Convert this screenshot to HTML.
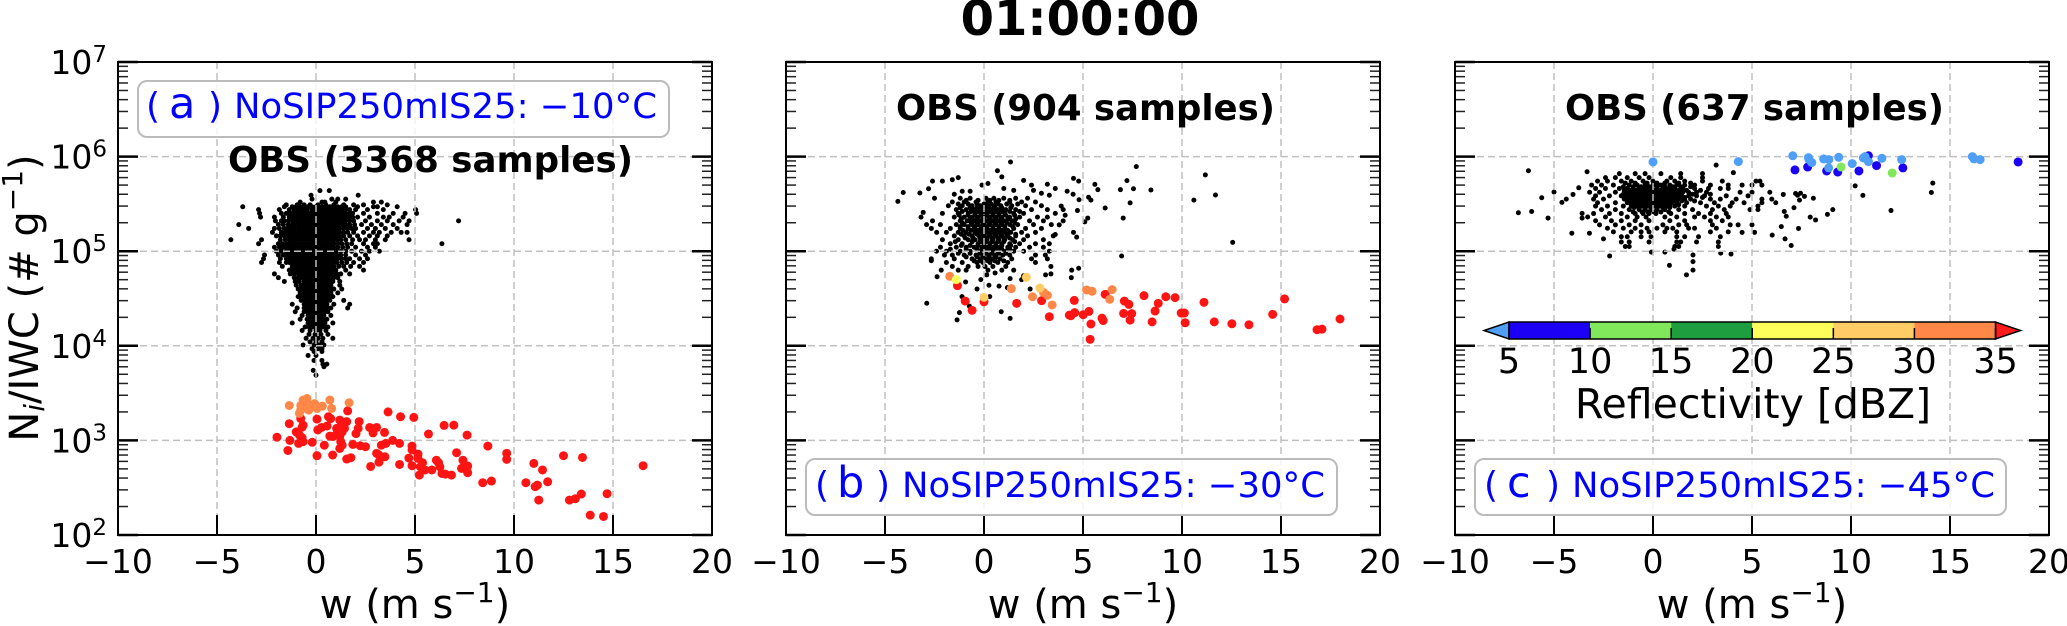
<!DOCTYPE html>
<html lang="en">
<head>
<meta charset="utf-8">
<title>01:00:00 scatter panels</title>
<style>
html,body{margin:0;padding:0;background:#fff;width:2067px;height:626px;overflow:hidden}
svg{display:block}
text{font-family:"DejaVu Sans","Liberation Sans",sans-serif;fill:#000}
.obs-title{font-size:36px;font-weight:bold}
.tag{font-size:35px;fill:#0000ff}
.tag-paren{font-size:36px;fill:#0000ff}
.tag-big{font-size:43px;fill:#0000ff}
.axis-title{font-size:40px}
</style>
</head>
<body>
<svg id="chart" width="2067" height="626" viewBox="0 0 2067 626" xmlns="http://www.w3.org/2000/svg">
  <text x="1080" y="35" text-anchor="middle" font-size="48" font-weight="bold">01:00:00</text>
  <g id="panel-a"></g>
  <g id="panel-b"></g>
  <g id="panel-c"></g>

  <text class="axis-title" transform="translate(38,298) rotate(-90)" text-anchor="middle">N<tspan font-size="28" font-style="italic" dy="6">i</tspan><tspan dy="-6">/IWC (# g</tspan><tspan font-size="28" dy="-16">−1</tspan><tspan dy="16">)</tspan></text>
  <text class="axis-title" x="415" y="618" text-anchor="middle">w (m s<tspan font-size="28" dy="-16">−1</tspan><tspan dy="16">)</tspan></text>
  <text class="axis-title" x="1083" y="618" text-anchor="middle">w (m s<tspan font-size="28" dy="-16">−1</tspan><tspan dy="16">)</tspan></text>
  <text class="axis-title" x="1752" y="618" text-anchor="middle">w (m s<tspan font-size="28" dy="-16">−1</tspan><tspan dy="16">)</tspan></text>

  <g>
    <rect x="138" y="81" width="531" height="56" rx="9" fill="#fff" fill-opacity="0.8" stroke="#bbb" stroke-width="2"/>
    <text class="tag-paren" x="146" y="118">(</text><text class="tag-big" x="169" y="118">a</text><text class="tag-paren" x="208" y="118">)</text>
    <text class="tag" x="234" y="118" textLength="423" lengthAdjust="spacingAndGlyphs">NoSIP250mIS25: −10°C</text>
  </g>
  <g>
    <rect x="806" y="459" width="531" height="56" rx="9" fill="#fff" fill-opacity="0.8" stroke="#bbb" stroke-width="2"/>
    <text class="tag-paren" x="815" y="497">(</text><text class="tag-big" x="837" y="497">b</text><text class="tag-paren" x="876" y="497">)</text>
    <text class="tag" x="902" y="497" textLength="423" lengthAdjust="spacingAndGlyphs">NoSIP250mIS25: −30°C</text>
  </g>
  <g>
    <rect x="1475" y="459" width="531" height="56" rx="9" fill="#fff" fill-opacity="0.8" stroke="#bbb" stroke-width="2"/>
    <text class="tag-paren" x="1484" y="497">(</text><text class="tag-big" x="1507" y="497">c</text><text class="tag-paren" x="1546" y="497">)</text>
    <text class="tag" x="1572" y="497" textLength="423" lengthAdjust="spacingAndGlyphs">NoSIP250mIS25: −45°C</text>
  </g>

  <text class="obs-title" x="228" y="172" textLength="405" lengthAdjust="spacingAndGlyphs">OBS (3368 samples)</text>
  <text class="obs-title" x="896" y="120" textLength="379" lengthAdjust="spacingAndGlyphs">OBS (904 samples)</text>
  <text class="obs-title" x="1565" y="120" textLength="379" lengthAdjust="spacingAndGlyphs">OBS (637 samples)</text>

  <g id="colorbar"></g>
  <text x="1753" y="418" text-anchor="middle" font-size="41">Reflectivity [dBZ]</text>
</svg>

<script>
/* ---------- axis ticks ---------- */
const xTicks = [-10, -5, 0, 5, 10, 15, 20];
const xTickLabels = ['−10', '−5', '0', '5', '10', '15', '20'];
const yDecades = [2, 3, 4, 5, 6, 7];
const yMinorFactors = [2, 3, 4, 5, 6, 7, 8, 9];

/* ---------- colorbar ---------- */
const cbarBounds = [5, 10, 15, 20, 25, 30, 35];
const cbarColors = ['#1c00f5', '#80e85a', '#1f9e3f', '#ffff5c', '#ffcc66', '#ff8848'];
const cbarUnder = '#4f9ef8';
const cbarOver = '#ff1a1a';

/* ---------- panel (a) observations: rows of [Ni/IWC, [w...]] ---------- */
const obsARows = [
 [4.37e5,[0.2,0.67]],
 [3.9e5,[2.13,-0.25]],
 [3.55e5,[-0.2,0.8,1.1,1.5]],
 [3.3e5,[-0.8,0.3,0.45,1.0,2.9,3.3]],
 [3.09e5,[-1.5,-0.95,-0.6,-0.3,0.1,0.5,0.9,1.4,1.9,2.4,3.6]],
 [2.95e5,[-3.7,-1.6,-1.2,-0.8,-0.4,0,0.3,0.7,1.1,1.5,2.1,2.9,3.1,4.1]],
 [2.75e5,[-2.9,-1.85,-1.35,-1.0,-0.7,-0.45,-0.2,0.05,0.3,0.55,0.8,1.05,1.3,1.7,2.0,2.6,3.4,5.03]],
 [2.51e5,[-2.85,-1.75,-1.5,-1.2,-0.9,-0.6,-0.3,0,0.3,0.6,0.9,1.2,1.5,1.85,2.4,3.1,3.9,4.5,5.08]],
 [2.29e5,[-2.8,-2.1,-1.35,-1.05,-0.75,-0.45,-0.15,0.15,0.45,0.75,1.05,1.35,1.65,2.1,2.7,3.4,3.7,4.4]],
 [2.09e5,[-2.05,-1.6,-1.2,-0.9,-0.6,-0.3,0,0.3,0.6,0.9,1.2,1.5,1.9,2.5,3.1,3.6,4.2,4.7,7.2]],
 [1.91e5,[-3.9,-1.9,-1.4,-1.05,-0.75,-0.45,-0.15,0.15,0.45,0.75,1.05,1.35,1.7,2.3,2.8,3.3,3.9,4.6]],
 [1.74e5,[-3.4,-2.1,-1.6,-1.3,-0.9,-0.6,-0.3,0,0.3,0.6,0.9,1.2,1.6,2.0,2.6,3.0,3.5,4.1]],
 [1.58e5,[-2.2,-1.75,-1.35,-1.05,-0.75,-0.45,-0.15,0.15,0.45,0.75,1.05,1.4,1.9,2.4,2.9,3.2,3.8,4.3,4.6]],
 [1.45e5,[-2.0,-1.6,-1.2,-0.9,-0.6,-0.3,0,0.3,0.6,0.9,1.2,1.7,2.1,2.7,3.1,3.6]],
 [1.32e5,[-4.3,-2.75,-1.8,-1.35,-1.05,-0.75,-0.45,-0.15,0.15,0.45,0.75,1.05,1.5,2.2,2.5,3.0,3.5,4.7]],
 [1.2e5,[-2.9,-1.9,-1.5,-1.2,-0.9,-0.6,-0.3,0,0.3,0.6,0.9,1.3,1.8,2.4,2.9,3.1,6.36]],
 [1.1e5,[-2.1,-1.65,-1.35,-1.05,-0.75,-0.45,-0.15,0.15,0.45,0.75,1.1,1.6,2.0,2.6,3.0]],
 [1e5,[-2.0,-1.5,-1.2,-0.9,-0.6,-0.3,0,0.3,0.6,0.9,1.25,1.8,2.3,2.7,3.2]],
 [9.12e4,[-2.6,-1.9,-1.65,-1.35,-1.05,-0.75,-0.45,-0.15,0.15,0.45,0.75,1.05,1.5,2.0,2.5]],
 [8.32e4,[-2.65,-1.8,-1.5,-1.2,-0.9,-0.6,-0.3,0,0.3,0.6,0.9,1.3,1.7,2.2,2.6]],
 [7.59e4,[-2.75,-1.85,-1.35,-1.05,-0.75,-0.45,-0.15,0.15,0.45,0.75,1.05,1.55,1.9,2.4]],
 [6.92e4,[-1.7,-1.2,-0.9,-0.6,-0.3,0,0.3,0.6,0.9,1.4,1.75,2.2]],
 [6.31e4,[-1.35,-1.05,-0.75,-0.45,-0.15,0.15,0.45,0.75,1.0,1.5,2.4]],
 [5.75e4,[-2.1,-1.3,-0.9,-0.6,-0.3,0,0.3,0.6,0.9,1.25,1.7]],
 [5.25e4,[-1.9,-1.1,-0.75,-0.45,-0.15,0.15,0.45,0.75,1.1]],
 [4.79e4,[-1.6,-1.05,-0.6,-0.3,0,0.3,0.6,0.85,1.2]],
 [4.37e4,[-1.0,-0.75,-0.45,-0.15,0.15,0.45,0.75,1.2]],
 [3.98e4,[-0.9,-0.6,-0.3,0,0.3,0.6,0.9,1.3]],
 [3.63e4,[-0.8,-0.45,-0.15,0.15,0.45,0.75,1.1]],
 [3.31e4,[-0.9,-0.6,-0.3,0,0.3,0.6,0.85]],
 [3.02e4,[-0.75,-0.45,-0.15,0.15,0.45,0.7,1.4]],
 [2.75e4,[-1.2,-0.6,-0.3,0,0.3,0.55,0.9,1.7]],
 [2.51e4,[-0.95,-0.45,-0.15,0.15,0.45,0.75,1.6]],
 [2.29e4,[-1.05,-0.6,-0.3,0,0.3,0.6]],
 [2.09e4,[-0.7,-0.4,-0.15,0.15,0.4,0.75]],
 [1.91e4,[-0.8,-0.3,0,0.3,0.55]],
 [1.74e4,[-1.2,-0.4,-0.1,0.15,0.45,0.85]],
 [1.58e4,[-0.55,-0.2,0.05,0.3,0.6]],
 [1.45e4,[-0.7,-0.3,0,0.2,0.5]],
 [1.32e4,[-0.35,-0.05,0.25,0.6]],
 [1.2e4,[-0.5,-0.15,0.1,0.35,0.85]],
 [1.1e4,[-0.3,0,0.3]],
 [1.02e4,[-0.65,-0.1,0.15,0.4]],
 [9.3e3,[-0.2,0.1,0.3]],
 [8.7e3,[-0.1,0.3]],
 [7.9e3,[-0.4,0.0]],
 [7.0e3,[-0.1,0.3]],
 [6.4e3,[0.55,0.35]],
 [6.0e3,[0.4]],
 [5.5e3,[-0.14]],
 [4.9e3,[0]]
];
/* dense centre of the panel (a) cloud */
const obsACoreRows = [
 [2.95e5,[-1.0,-0.6,-0.2,0.15,0.5,0.9,1.3]],
 [2.75e5,[-1.1,-0.85,-0.55,-0.1,0.15,0.45,0.7,0.95,1.2,1.5]],
 [2.51e5,[-1.35,-1.05,-0.75,-0.45,-0.15,0.15,0.45,0.75,1.05,1.35,1.7]],
 [2.29e5,[-1.65,-1.2,-0.9,-0.6,-0.3,0,0.3,0.6,0.9,1.2,1.5,1.85]],
 [2.09e5,[-1.75,-1.4,-1.05,-0.75,-0.45,-0.15,0.15,0.45,0.75,1.05,1.35,1.7]],
 [1.91e5,[-1.65,-1.2,-0.9,-0.6,-0.3,0,0.3,0.6,0.9,1.2,1.5,1.95]],
 [1.74e5,[-1.85,-1.45,-1.1,-0.75,-0.45,-0.15,0.15,0.45,0.75,1.05,1.4,1.8]],
 [1.58e5,[-1.55,-1.2,-0.9,-0.6,-0.3,0,0.3,0.6,0.9,1.2,1.6]],
 [1.45e5,[-1.8,-1.4,-1.05,-0.75,-0.45,-0.15,0.15,0.45,0.75,1.05,1.4]],
 [1.32e5,[-1.55,-1.2,-0.9,-0.6,-0.3,0,0.3,0.6,0.9,1.25,1.85]],
 [1.2e5,[-1.7,-1.35,-1.05,-0.75,-0.45,-0.15,0.15,0.45,0.75,1.1,1.55]],
 [1.1e5,[-1.85,-1.5,-1.2,-0.9,-0.6,-0.3,0,0.3,0.6,0.9,1.35]],
 [1e5,[-1.75,-1.35,-1.05,-0.75,-0.45,-0.15,0.15,0.45,0.75,1.05,1.5]],
 [9.12e4,[-1.5,-1.2,-0.9,-0.6,-0.3,0,0.3,0.6,0.9,1.25]],
 [8.32e4,[-1.35,-1.05,-0.75,-0.45,-0.15,0.15,0.45,0.75,1.1,1.5]],
 [7.59e4,[-1.5,-1.2,-0.9,-0.6,-0.3,0,0.3,0.6,0.9,1.3]],
 [6.92e4,[-1.05,-0.75,-0.45,-0.15,0.15,0.45,0.75,1.15]],
 [6.31e4,[-1.2,-0.9,-0.6,-0.3,0,0.3,0.6,0.88]],
 [5.75e4,[-1.1,-0.75,-0.45,-0.15,0.15,0.45,0.75,1.05]],
 [5.25e4,[-0.9,-0.6,-0.3,0,0.3,0.6,0.9]],
 [4.79e4,[-0.85,-0.45,-0.15,0.15,0.45,0.72]],
 [4.37e4,[-0.6,-0.3,0,0.3,0.6]],
 [3.98e4,[-0.75,-0.45,-0.15,0.15,0.45,0.75]],
 [3.63e4,[-0.6,-0.3,0,0.3,0.6]],
 [3.31e4,[-0.75,-0.45,-0.15,0.15,0.45,0.72]],
 [3.02e4,[-0.6,-0.3,0,0.3,0.58]],
 [2.75e4,[-0.45,-0.15,0.15,0.42]],
 [2.51e4,[-0.6,-0.3,0,0.3,0.6]],
 [2.29e4,[-0.45,-0.15,0.15,0.45]],
 [2.09e4,[-0.25,0,0.28]],
 [1.91e4,[-0.45,-0.15,0.15,0.42]],
 [1.74e4,[-0.25,0.02,0.3]],
 [1.58e4,[-0.35,-0.08,0.17,0.45]]
];

/* ---------- panel (a) model ---------- */
const redA = [
[-1.97,1080],[-1.35,1500],[-1.42,783],[-1.32,1000],[-0.88,930],[-0.65,968],[-1.0,1230],[-0.84,1140],[-0.7,1070],[-0.77,1700],[-0.65,1450],[-0.7,1380],[-0.19,955],[0.05,690],[0.84,700],[0.42,890],[0.05,1680],[0.09,1290],[0.28,1370],[0.56,1420],[0.63,1780],[0.74,1700],[0.7,1110],[0.86,1100],[1.04,1340],[1.2,1640],[1.32,1450],[1.6,2050],[1.55,1580],[1.09,1230],[1.32,1230],[1.2,1100],[1.09,1150],[1.44,1340],[1.25,968],[1.2,822],[1.32,890],[1.55,635],[1.76,656],[1.86,907],[2.18,1580],[2.13,1340],[2.02,1180],[2.23,879],[2.5,858],[2.71,1370],[3.06,1370],[2.88,1200],[3.46,1215],[2.76,530],[3.06,730],[3.18,700],[3.48,671],[3.18,589],[3.3,891],[3.53,929],[3.87,1000],[4.22,929],[3.64,2000],[4.27,1780],[4.94,1750],[5.68,1167],[6.47,1440],[6.96,1450],[7.63,1138],[8.68,871],[4.85,871],[4.85,794],[5.15,717],[4.69,650],[5.15,646],[4.22,557],[4.85,540],[5.38,580],[5.27,525],[5.22,430],[5.5,487],[5.85,487],[6.08,617],[6.19,580],[6.26,525],[6.36,447],[6.54,440],[6.84,430],[7.1,741],[7.42,617],[7.35,506],[7.66,537],[7.66,455],[8.42,357],[8.86,372],[9.63,730],[9.63,631],[10.6,357],[11.07,324],[11.18,337],[11.25,234],[11.7,365],[11.44,487],[11.0,571],[12.5,689],[13.46,660],[16.52,540],[12.8,234],[13.1,242],[13.4,271],[14.7,273],[13.85,162],[14.52,157]
];
const orangeA = [
[-1.35,2340],[-0.77,2340],[-0.65,2670],[-0.46,2770],[-0.77,2090],[-0.84,1930],[-0.37,2090],[-0.3,2340],[-0.07,2450],[0.05,2180],[0.32,2300],[0.7,2670],[0.79,2180],[1.67,2500],[-0.65,2270],[-0.42,2450]
];

/* ---------- panel (b) observations ---------- */
const obsBRows = [
 [3.63e5,[-1.2,-0.7,0.1,0.5,1.0,1.6,2.2]],
 [3.31e5,[-1.6,-1.0,-0.4,0.2,0.6,1.3,1.9,2.6]],
 [3.02e5,[-1.8,-1.1,-0.6,-0.2,0.15,0.5,0.85,1.4,2.1,2.9]],
 [2.75e5,[-1.4,-0.9,-0.5,-0.2,0.1,0.4,0.7,1.1,1.6,2.4,3.2,4.0]],
 [2.51e5,[-2.1,-1.3,-0.8,-0.45,-0.15,0.15,0.45,0.75,1.05,1.5,2.0,3.6]],
 [2.29e5,[-1.5,-1.0,-0.6,-0.3,0,0.3,0.6,0.9,1.3,1.8,2.7,3.2]],
 [2.09e5,[-2.6,-1.2,-0.85,-0.5,-0.2,0.1,0.4,0.7,1.0,1.4,2.3,3.0,4.0]],
 [1.91e5,[-2.2,-1.4,-1.0,-0.6,-0.3,0,0.3,0.6,0.9,1.3,1.7,2.5,3.4]],
 [1.74e5,[-1.7,-1.2,-0.8,-0.5,-0.15,0.15,0.45,0.75,1.05,1.5,2.1,2.9]],
 [1.58e5,[-1.9,-1.3,-0.9,-0.45,-0.2,0.1,0.4,0.7,1.0,1.35,1.9,2.6]],
 [1.45e5,[-1.5,-1.0,-0.6,-0.25,0,0.3,0.6,0.9,1.2,1.6,2.2,3.5]],
 [1.32e5,[-2.1,-1.3,-0.8,-0.45,-0.1,0.15,0.45,0.75,1.05,1.45,2.0,3.0]],
 [1.2e5,[-1.7,-1.1,-0.3,0,0.3,0.6,0.9,1.3,1.8,2.6,3.3]],
 [1.1e5,[-2.2,-1.4,-0.9,-0.5,-0.1,0.2,0.5,0.8,1.2,1.6,2.3,3.0]],
 [1e5,[-2.4,-1.9,-1.2,-0.7,-0.2,0.1,0.4,0.7,1.1,1.5,2.0,3.3]],
 [9.1e4,[-2.0,-1.6,-1.0,-0.4,-0.05,0.25,0.55,0.95,1.3,2.6,3.1]],
 [8.3e4,[-2.66,-1.5,-0.6,-0.2,0.1,0.4,0.8,1.4,2.4,3.2]],
 [7.6e4,[-1.9,-1.1,-0.35,-0.05,0.3,0.7,1.2,2.6]],
 [6.9e4,[-1.6,-0.8,-0.3,0.05,0.45,1.1,3.38]],
 [6.3e4,[-2.16,-1.3,-0.9,0.2,0.9,1.5]]
];
/* dense centre of the panel (b) cloud */
const obsBCoreRows = [
 [3.45e5,[-0.9,-0.3,0.3,0.75,1.3]],
 [3.15e5,[-1.3,-0.8,-0.35,0,0.35,0.7,1.15,1.7]],
 [2.88e5,[-1.2,-0.7,-0.35,-0.05,0.25,0.55,0.9,1.35]],
 [2.63e5,[-1.1,-0.65,-0.3,0,0.3,0.6,0.9,1.3,1.8]],
 [2.4e5,[-1.25,-0.8,-0.45,-0.15,0.15,0.45,0.75,1.1,1.55]],
 [2.19e5,[-1.15,-0.7,-0.35,-0.05,0.25,0.55,0.85,1.2,1.6]],
 [2e5,[-1.1,-0.65,-0.35,-0.05,0.25,0.55,0.85,1.15,1.55]],
 [1.82e5,[-1.2,-0.8,-0.45,-0.15,0.15,0.45,0.75,1.05,1.45]],
 [1.66e5,[-1.05,-0.65,-0.3,0,0.3,0.6,0.9,1.2]],
 [1.51e5,[-1.15,-0.75,-0.35,-0.05,0.25,0.55,0.85,1.15,1.6]],
 [1.38e5,[-0.95,-0.55,-0.2,0.1,0.4,0.7,1.0,1.3]],
 [1.26e5,[-1.45,-0.6,-0.2,0.1,0.4,0.7,1.0,1.55]],
 [1.15e5,[-1.15,-0.7,-0.3,0,0.3,0.6,0.9,1.35]],
 [1.05e5,[-1.7,-0.9,-0.35,0,0.3,0.6,0.9,1.3]],
 [9.5e4,[-1.3,-0.7,-0.2,0.1,0.4,0.75,1.1]],
 [8.7e4,[-0.9,-0.35,-0.05,0.25,0.6]],
 [7.9e4,[-0.5,-0.15,0.2,0.55,1.0]]
];
const obsBExtra = [
[1.34,8.77e5],[0.68,7.08e5],[7.69,7.83e5],[11.18,6.4e5],[7.22,5.57e5],[8.43,4.44e5],[7.55,4.57e5],[6.89,4.47e5],[11.69,3.93e5],[10.6,3.47e5],[7.38,3.24e5],[7.03,2.24e5],[12.56,1.24e5],[6.95,8.9e4],[6.12,2.86e5],[4.52,5.89e5],[4.78,5.5e5],[5.6,5.09e5],[5.75,4.47e5],[5.28,3.72e5],[5.4,3.47e5],[5.24,2.24e5],[5.09,2.04e5],[4.72,2.69e5],[4.52,1.58e5],[4.68,1.41e5],[4.78,6.6e4],[4.43,6.3e4],[4.41,5.25e4],
[-4.35,3.36e5],[-4.08,4.17e5],[-3.24,4.12e5],[-2.6,5.5e5],[-2.1,5.5e5],[-2.8,4.57e5],[-2.5,3.63e5],[-3.18,2.29e5],[-3.07,2.57e5],[-2.9,1.91e5],[-2.66,1.74e5],[-2.39,1.58e5],[-2.66,7.94e4],[-2.37,5.37e4],
[-2.89,2.82e4],[-1.36,1.88e4],[-1.24,2.24e4],[-1.11,3.31e4],[-0.74,2.63e4],[0.87,2.29e4],[1.32,1.95e4],[-0.35,3.98e4],[0.29,3.31e4],[0.25,4.37e4],[0.76,4.27e4],[1.18,4.12e4],[2.33,3.98e4],[-0.93,4.73e4],[-0.16,5.01e4],[0.14,5.62e4],[0.56,5.89e4],[1.32,5.13e4],[3.11,5.62e4],[3.38,5.75e4],[2.0,5.5e4],[1.9,5.0e4],
[-1.6,5.7e5],[-1.3,6.0e5],[-0.1,5.0e5],[0.2,5.2e5],[0.9,6.1e5],[2.0,5.6e5],[2.4,5.0e5],[3.2,5.1e5],[3.6,4.6e5],[4.2,4.3e5],[4.5,4.0e5],[4.8,3.5e5],[1.0,4.6e5],[1.5,4.4e5],[2.5,4.4e5],[2.9,4.1e5],[-0.7,4.3e5],[-1.1,4.3e5],[-1.5,4.0e5],[3.3,3.9e5],[3.9,3.0e5],[4.1,2.4e5],[3.8,1.9e5],[3.6,1.5e5]
];
const redB = [
[-1.34,4.32e4],[-0.95,2.97e4],[-0.6,2.37e4],[0,2.92e4],[1.65,2.81e4],[2.91,3.0e4],[3.3,2.03e4],[4.31,2.11e4],[4.39,2.08e4],[4.56,3.02e4],[4.58,2.24e4],[5.01,2.13e4],[5.3,2.31e4],[5.4,1.7e4],[5.36,1.17e4],[5.96,1.96e4],[6.02,1.85e4],[6.12,3.5e4],[7.09,2.97e4],[7.32,2.74e4],[7.05,2.2e4],[7.46,2.19e4],[7.38,1.87e4],[8.08,3.39e4],[8.8,2.81e4],[8.64,2.33e4],[8.49,1.79e4],[9.18,3.3e4],[9.65,3.23e4],[9.96,2.22e4],[10.12,2.22e4],[10.16,1.75e4],[11.11,2.88e4],[11.63,1.79e4],[12.52,1.71e4],[13.38,1.67e4],[14.58,2.15e4],[15.18,3.13e4],[16.82,1.48e4],[17.07,1.5e4],[17.98,1.92e4]
];
const orangeB = [
[-1.73,5.43e4],[1.38,4.02e4],[2.45,3.3e4],[3.01,3.65e4],[3.2,3.42e4],[3.44,2.7e4],[5.18,3.89e4],[5.46,3.77e4],[6.35,3.1e4],[6.47,3.93e4]
];
const lightOrangeB = [[2.82,4.08e4],[2.14,5.3e4],[0,3.25e4]];
const yellowB = [[-1.4,5.01e4]];

/* ---------- panel (c) observations ---------- */
const obsCRows = [
 [6.6e5,[-1.7,-0.9,-0.4,0.4,1.4,2.5]],
 [6.0e5,[-2.4,-1.9,-1.3,-0.7,-0.2,0.9,1.4,2.5]],
 [5.5e5,[-2.8,-2.3,-1.6,-1.1,-0.5,0,0.7,1.1,1.6,2.5,3.5,5.2,5.4]],
 [5.0e5,[-3.1,-2.6,-2.0,-1.2,-0.8,-0.4,0,0.4,0.85,1.2,1.6,2.1,2.9,3.8,4.5,5.0,5.5]],
 [4.6e5,[-2.9,-2.4,-1.7,-1.3,-1.0,-0.7,-0.4,-0.1,0.2,0.5,0.8,1.1,1.5,2.1,2.8,3.4,3.8]],
 [4.2e5,[-3.2,-2.7,-1.9,-1.45,-1.15,-0.85,-0.55,-0.25,0.05,0.35,0.65,0.95,1.3,1.8,2.7,4.4,5.0,5.9]],
 [3.85e5,[-2.9,-2.2,-1.6,-1.3,-1.0,-0.7,-0.4,-0.1,0.2,0.5,0.8,1.1,1.45,2.2,2.6,3.7,4.8]],
 [3.55e5,[-3.0,-2.5,-1.45,-1.15,-0.85,-0.55,-0.25,0.05,0.35,0.65,0.95,1.35,1.9,2.9,3.4,4.2,5.5,6.0]],
 [3.25e5,[-2.8,-1.9,-1.3,-1.0,-0.7,-0.4,-0.1,0.2,0.5,0.8,1.2,1.7,2.4,3.1,4.0,4.6,5.5,6.2]],
 [3.0e5,[-2.9,-2.3,-1.5,-1.1,-0.85,-0.55,-0.25,0.05,0.35,0.7,1.1,1.6,2.7,3.3,3.9,5.3]],
 [2.75e5,[-2.6,-1.9,-1.2,-0.7,-0.4,-0.1,0.2,0.6,1.3,2.0,3.0,3.6,4.9,5.3]],
 [2.5e5,[-3.0,-2.2,-1.6,-0.9,-0.5,-0.2,0.15,0.9,1.6,2.3,2.9,3.7]],
 [2.3e5,[-3.3,-2.4,-1.3,-0.8,-0.35,0.6,1.2,2.1,2.6,3.2,3.8]],
 [2.1e5,[-2.9,-2.1,-1.6,-0.9,-0.2,0.85,1.6,2.9,3.5]],
 [1.9e5,[-2.7,-1.9,-1.2,-0.6,0.5,1.3,1.7,3.0,3.9,4.3,5.0]],
 [1.75e5,[-2.3,-1.5,-0.9,-0.3,0.2,0.7,1.0,1.8,2.1,3.2]],
 [1.6e5,[-2.0,-1.1,-0.6,-0.2,0.6,1.2,2.9,3.8]],
 [1.42e5,[-1.6,-1.3,-0.6,-0.1,1.2,1.6,2.3,3.4]],
 [1.25e5,[-1.6,-1.2,-0.2,1.2,1.4,2.2,3.3]],
 [1.12e5,[-1.4,-1.2,1.1,1.3,3.3]]
];
/* dense centre of the panel (c) cloud */
const obsCCoreRows = [
 [5.25e5,[-1.4,-0.9,-0.3,0.2,0.6,1.3,1.9]],
 [4.8e5,[-1.5,-1.0,-0.6,-0.2,0.2,0.6,1.0,1.4,1.9]],
 [4.4e5,[-1.45,-1.15,-0.85,-0.55,-0.25,0.05,0.35,0.65,0.95,1.3,1.7,2.4]],
 [4.2e5,[-1.3,-1.0,-0.7,-0.4,-0.1,0.2,0.5,0.8,1.1,1.5,2.2]],
 [4.0e5,[-1.5,-1.15,-0.85,-0.55,-0.25,0.05,0.35,0.65,0.95,1.35,2.0,2.9]],
 [3.85e5,[-1.45,-1.15,-0.85,-0.55,-0.25,0.05,0.35,0.65,0.95,1.25,1.8]],
 [3.7e5,[-1.3,-1.0,-0.7,-0.4,-0.1,0.2,0.5,0.8,1.15,1.6,2.5]],
 [3.55e5,[-1.3,-1.0,-0.7,-0.4,-0.1,0.2,0.5,0.8,1.15,1.6]],
 [3.4e5,[-1.15,-0.85,-0.55,-0.25,0.05,0.35,0.65,1.0,1.45,2.1]],
 [3.25e5,[-1.15,-0.85,-0.55,-0.25,0.05,0.35,0.65,0.95]],
 [3.1e5,[-0.95,-0.7,-0.4,-0.1,0.2,0.5,0.85,1.3]],
 [2.9e5,[-0.95,-0.7,-0.4,-0.1,0.2,0.5,0.85]],
 [2.6e5,[-1.0,-0.55,-0.25,0.05,0.4,0.8]]
];
const obsCExtra = [
[-6.29,7.08e5],[-5.62,3.67e5],[-5.0,4.22e5],[-6.8,2.55e5],[-6.13,2.63e5],[-5.3,2.24e5],[-4.1,1.55e5],[-3.21,1.55e5],[-2.5,1.35e5],[-3.33,6.92e5],[-2.19,8.91e4],[-4.6,3.28e5],[-4.38,3.55e5],[-4.04,3.98e5],[-3.75,4.68e5],[-3.58,2.51e5],[-3.58,2.24e5],[3.19,8.13e5],[4.06,6.76e5],[1.69,5.62e4],[2.02,6.31e4],[2.02,7.76e4],[2.02,9.12e4],[0.83,7.08e4],[-0.08,9.77e4],[0.6,9.77e4],[1.06,1.05e5],[3.42,9.55e4],[3.94,9.33e4],[6.98,1.15e5],[6.67,1.35e5],[6.02,1.48e5],[5.13,1.58e5],[4.5,1.58e5],[6.48,1.82e5],[7.35,1.74e5],[7.94,2.29e5],[8.21,2.14e5],[8.81,2.45e5],[9.08,2.75e5],[12.02,2.69e5],[10.21,4.9e5],[10.6,3.89e5],[14.06,4.17e5],[14.13,5.25e5],[8.1,3.63e5],[7.65,3.8e5],[7.2,4.07e5],[6.58,3.98e5],[7.4,3.47e5],[7.12,2.88e5],[6.73,2.34e5],[6.63,2.63e5],[7.3,3.9e5],[7.45,4.1e5]
];
const lightBlueC = [
[0,8.78e5],[4.31,8.85e5],[7.06,1.02e6],[7.85,9.76e5],[7.88,9.3e5],[8.02,8.64e5],[8.62,9.45e5],[8.88,9.3e5],[8.87,7.59e5],[9.38,9.84e5],[10.06,8.43e5],[10.62,9.68e5],[10.71,1e6],[10.88,8.85e5],[11.56,9.6e5],[12.56,9.3e5],[16.13,1e6],[16.21,9.45e5],[16.52,9.3e5]
];
const blueC = [
[7.17,7.23e5],[7.81,7.76e5],[8.77,7.05e5],[9.33,6.87e5],[10.4,7.05e5],[10.88,1.02e6],[11.29,8.03e5],[12.62,7.59e5],[18.44,8.78e5]
];
const greenC = [[9.5,7.76e5],[12.08,6.71e5]];

/* ---------- layout ---------- */
const SVGNS = 'http://www.w3.org/2000/svg';
const PLOT_TOP = 62, PLOT_BOTTOM = 535, PLOT_W = 594;
const GRID = '#c0c0c0';

function xPos(x0, w) { return x0 + (w - xTicks[0]) / (xTicks[xTicks.length - 1] - xTicks[0]) * PLOT_W; }
function yPos(n) {
  const lo = yDecades[0], hi = yDecades[yDecades.length - 1];
  return PLOT_BOTTOM - (Math.log10(n) - lo) / (hi - lo) * (PLOT_BOTTOM - PLOT_TOP);
}
function svgLine(x1, y1, x2, y2, stroke, width, dash) {
  const l = document.createElementNS(SVGNS, 'line');
  l.setAttribute('x1', x1);
  l.setAttribute('y1', y1);
  l.setAttribute('x2', x2);
  l.setAttribute('y2', y2);
  l.setAttribute('stroke', stroke);
  l.setAttribute('stroke-width', width);
  if (dash) l.setAttribute('stroke-dasharray', dash);
  return l;
}
function drawPoints(g, x0, pts, color, r, name) {
  pts.forEach(function (p) {
    const c = document.createElementNS(SVGNS, 'circle');
    c.setAttribute('cx', xPos(x0, p[0]));
    c.setAttribute('cy', yPos(p[1]));
    c.setAttribute('r', r);
    c.setAttribute('fill', color);
    
    
    g.appendChild(c);
  });
}
function drawRows(g, x0, rows, color, r, name) {
  rows.forEach(function (row) {
    row[1].forEach(function (w) {
      const c = document.createElementNS(SVGNS, 'circle');
      c.setAttribute('cx', xPos(x0, w));
      c.setAttribute('cy', yPos(row[0]));
      c.setAttribute('r', r);
      c.setAttribute('fill', color);
      
      
      g.appendChild(c);
    });
  });
}
function drawGrid(g, x0) {
  xTicks.slice(1, -1).forEach(function (t) {
    const l = svgLine(xPos(x0, t), PLOT_TOP, xPos(x0, t), PLOT_BOTTOM, GRID, 1.5, '7 4');
    
    
    g.appendChild(l);
  });
  yDecades.slice(1, -1).forEach(function (d) {
    const y = yPos(Math.pow(10, d));
    const l = svgLine(x0, y, x0 + PLOT_W, y, GRID, 1.5, '7 4');
    
    
    g.appendChild(l);
  });
}
function drawAxes(g, x0, withYLabels) {
  xTicks.forEach(function (t, i) {
    const x = xPos(x0, t);
    if (i > 0 && i < xTicks.length - 1) {
      const l = svgLine(x, PLOT_BOTTOM, x, PLOT_BOTTOM - 20, '#000', 2);
      
      
      g.appendChild(l);
    }
    const lab = document.createElementNS(SVGNS, 'text');
    lab.setAttribute('x', x);
    lab.setAttribute('y', 573);
    lab.setAttribute('text-anchor', 'middle');
    lab.setAttribute('font-size', '33');
    
    
    lab.textContent = xTickLabels[i];
    g.appendChild(lab);
  });
  yDecades.forEach(function (d, i) {
    const y = yPos(Math.pow(10, d));
    [[x0, x0 + 20], [x0 + PLOT_W, x0 + PLOT_W - 20]].forEach(function (e) {
      const l = svgLine(e[0], y, e[1], y, '#000', 2.5);
      
      
      g.appendChild(l);
    });
    if (i < yDecades.length - 1) {
      yMinorFactors.forEach(function (f) {
        const ym = yPos(f * Math.pow(10, d));
        [[x0, x0 + 10], [x0 + PLOT_W, x0 + PLOT_W - 10]].forEach(function (e) {
          const m = svgLine(e[0], ym, e[1], ym, '#222', 1.5);
          
          
          g.appendChild(m);
        });
      });
    }
    if (withYLabels) {
      const t = document.createElementNS(SVGNS, 'text');
      t.setAttribute('x', 107);
      t.setAttribute('y', y + 12);
      t.setAttribute('text-anchor', 'end');
      t.setAttribute('font-size', '33');
      
      
      t.textContent = '10';
      const s = document.createElementNS(SVGNS, 'tspan');
      s.setAttribute('font-size', '23');
      s.setAttribute('dy', '-12');
      s.textContent = String(d);
      t.appendChild(s);
      g.appendChild(t);
    }
  });
  const frame = document.createElementNS(SVGNS, 'rect');
  frame.setAttribute('x', x0);
  frame.setAttribute('y', PLOT_TOP);
  frame.setAttribute('width', PLOT_W);
  frame.setAttribute('height', PLOT_BOTTOM - PLOT_TOP);
  frame.setAttribute('fill', 'none');
  frame.setAttribute('stroke', '#000');
  frame.setAttribute('stroke-width', '2');
  
  
  g.appendChild(frame);
}

/* ---------- panels ---------- */
const gA = document.getElementById('panel-a');
const gB = document.getElementById('panel-b');
const gC = document.getElementById('panel-c');
const XA = 118, XB = 786, XC = 1455;
const OBS_R = 2.5, MODEL_R = 4.5;

drawRows(gA, XA, obsARows, '#000', OBS_R, 'obs-point');
drawRows(gA, XA, obsACoreRows, '#000', OBS_R, 'obs-point');
drawGrid(gA, XA);
drawPoints(gA, XA, redA, '#ff1414', MODEL_R, 'model-point-red');
drawPoints(gA, XA, orangeA, '#ff8848', MODEL_R, 'model-point-orange');
drawAxes(gA, XA, true);

drawRows(gB, XB, obsBRows, '#000', OBS_R, 'obs-point');
drawRows(gB, XB, obsBCoreRows, '#000', OBS_R, 'obs-point');
drawPoints(gB, XB, obsBExtra, '#000', OBS_R, 'obs-point');
drawGrid(gB, XB);
drawPoints(gB, XB, redB, '#ff1414', MODEL_R, 'model-point-red');
drawPoints(gB, XB, orangeB, '#ff8848', MODEL_R, 'model-point-orange');
drawPoints(gB, XB, lightOrangeB, '#ffcc66', MODEL_R, 'model-point-light-orange');
drawPoints(gB, XB, yellowB, '#ffff5c', MODEL_R, 'model-point-yellow');
drawAxes(gB, XB, false);

drawRows(gC, XC, obsCRows, '#000', OBS_R, 'obs-point');
drawRows(gC, XC, obsCCoreRows, '#000', OBS_R, 'obs-point');
drawPoints(gC, XC, obsCExtra, '#000', OBS_R, 'obs-point');
drawGrid(gC, XC);
drawPoints(gC, XC, blueC, '#1c00f5', MODEL_R, 'model-point-blue');
drawPoints(gC, XC, greenC, '#80e85a', MODEL_R, 'model-point-green');
drawPoints(gC, XC, lightBlueC, '#4f9ef8', MODEL_R, 'model-point-light-blue');
drawAxes(gC, XC, false);

/* ---------- colorbar ---------- */
(function () {
  const g = document.getElementById('colorbar');
  const L = 1509, R = 1995.5, T = 322, B = 339, MID = (T + B) / 2, TIP = 25;
  const cx = function (v) {
    return L + (v - cbarBounds[0]) / (cbarBounds[cbarBounds.length - 1] - cbarBounds[0]) * (R - L);
  };
  const under = document.createElementNS(SVGNS, 'polygon');
  under.setAttribute('points', L + ',' + T + ' ' + L + ',' + B + ' ' + (L - TIP) + ',' + MID);
  under.setAttribute('fill', cbarUnder);
  under.setAttribute('stroke', '#000');
  under.setAttribute('stroke-width', '1.5');
  
  
  g.appendChild(under);
  const over = document.createElementNS(SVGNS, 'polygon');
  over.setAttribute('points', R + ',' + T + ' ' + R + ',' + B + ' ' + (R + TIP) + ',' + MID);
  over.setAttribute('fill', cbarOver);
  over.setAttribute('stroke', '#000');
  over.setAttribute('stroke-width', '1.5');
  
  
  g.appendChild(over);
  cbarColors.forEach(function (col, i) {
    const r = document.createElementNS(SVGNS, 'rect');
    r.setAttribute('x', cx(cbarBounds[i]));
    r.setAttribute('y', T);
    r.setAttribute('width', cx(cbarBounds[i + 1]) - cx(cbarBounds[i]));
    r.setAttribute('height', B - T);
    r.setAttribute('fill', col);
    
    
    g.appendChild(r);
  });
  const edge = document.createElementNS(SVGNS, 'rect');
  edge.setAttribute('x', L);
  edge.setAttribute('y', T);
  edge.setAttribute('width', R - L);
  edge.setAttribute('height', B - T);
  edge.setAttribute('fill', 'none');
  edge.setAttribute('stroke', '#000');
  edge.setAttribute('stroke-width', '1.5');
  
  
  g.appendChild(edge);
  cbarBounds.forEach(function (v) {
    const x = cx(v);
    const l = svgLine(x, B, x, B - 11, '#000', 1.5);
    
    
    g.appendChild(l);
    const t = document.createElementNS(SVGNS, 'text');
    t.setAttribute('x', x);
    t.setAttribute('y', 373);
    t.setAttribute('text-anchor', 'middle');
    t.setAttribute('font-size', '35');
    
    
    t.textContent = String(v);
    g.appendChild(t);
  });
})();
</script>
</body>
</html>
